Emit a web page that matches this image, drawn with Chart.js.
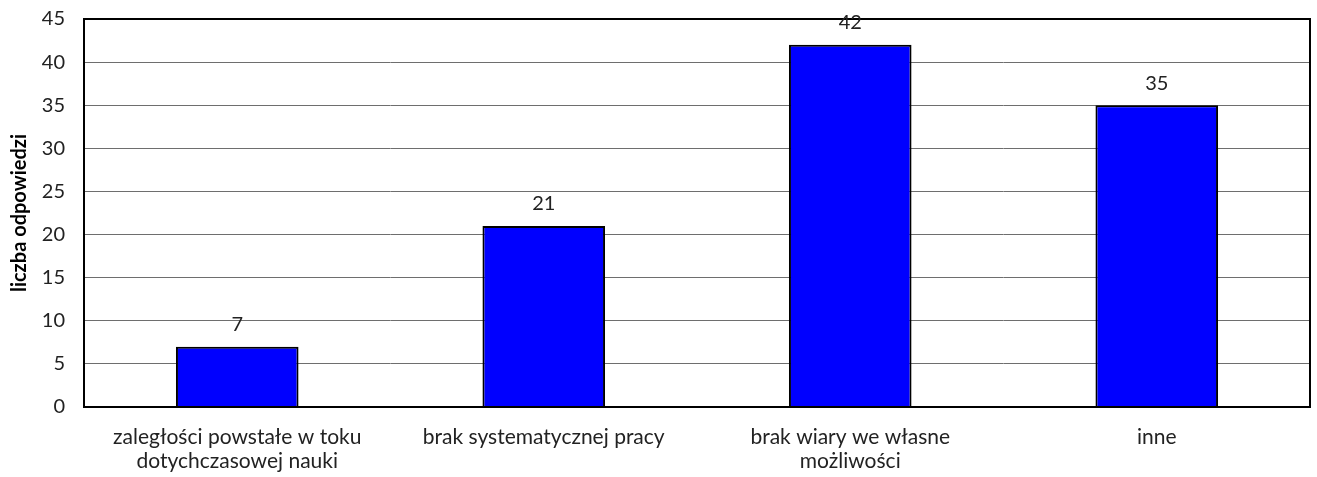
<!DOCTYPE html>
<html>
<head>
<meta charset="utf-8">
<script src="https://cdn.jsdelivr.net/npm/chart.js@4"></script>
<style>
  html, body { margin: 0; padding: 0; background: #fff; }
  #wrap { width: 1317px; height: 477px; position: relative; }
</style>
</head>
<body>
<div id="wrap"><canvas id="chart"></canvas></div>
<script>
// dane
const categories = [
    ['zaległości powstałe w toku', 'dotychczasowej nauki'],
    'brak systematycznej pracy',
    ['brak wiary we własne', 'możliwości'],
    'inne',
];
const answers = [7, 21, 42, 35];
const yTicks = [0, 5, 10, 15, 20, 25, 30, 35, 40, 45];
const yTitle = 'liczba odpowiedzi';

const FONT = 'Lato, Carlito, "Liberation Sans", sans-serif';

// ramka wokół obszaru wykresu
const frame = {
    id: 'frame',
    afterDatasetsDraw(chart) {
        const { ctx, chartArea: a } = chart;
        ctx.save();
        ctx.strokeStyle = '#000';
        ctx.lineWidth = 2;
        ctx.strokeRect(a.left, a.top, a.right - a.left, a.bottom - a.top);
        ctx.restore();
    },
};

// etykiety wartości nad słupkami
const valueLabels = {
    id: 'valueLabels',
    afterDatasetsDraw(chart) {
        const { ctx } = chart;
        const meta = chart.getDatasetMeta(0);
        ctx.save();
        ctx.font = '20px ' + FONT;
        ctx.fillStyle = '#222';
        ctx.textAlign = 'center';
        ctx.textBaseline = 'bottom';
        meta.data.forEach((bar, i) => {
            ctx.fillText(String(answers[i]), bar.x, bar.y - 12);
        });
        ctx.restore();
    },
};

new Chart(document.getElementById('chart'), {
    type: 'bar',
    data: {
        labels: categories,
        datasets: [{
            data: answers,
            backgroundColor: '#0000ff',
            borderColor: '#000',
            borderWidth: 2,
            categoryPercentage: 0.4,
            barPercentage: 1,
        }],
    },
    options: {
        responsive: true,
        maintainAspectRatio: false,
        animation: false,
        layout: { padding: { top: 19, right: 7, left: 0, bottom: 0 } },
        plugins: {
            legend: { display: false },
            tooltip: { enabled: false },
        },
        scales: {
            x: {
                grid: { display: false, drawTicks: false },
                border: { display: false },
                ticks: {
                    color: '#222',
                    font: { family: FONT, size: 21, lineHeight: 1.15 },
                    padding: 18,
                    maxRotation: 0,
                    autoSkip: false,
                },
                afterFit(scale) { scale.height = 70; },
            },
            y: {
                min: 0,
                max: 45,
                afterBuildTicks(scale) { scale.ticks = yTicks.map(v => ({ value: v })); },
                grid: {
                    color: '#6e6e6e',
                    lineWidth: 1,
                    drawTicks: true,
                    tickLength: 18,
                    tickColor: 'rgba(0,0,0,0)',
                },
                border: { display: false },
                ticks: {
                    color: '#222',
                    font: { family: FONT, size: 20 },
                    padding: 1,
                },
                title: {
                    display: true,
                    text: yTitle,
                    color: '#000',
                    font: { family: FONT, size: 20, weight: 'bold' },
                    padding: { top: 8, bottom: 0 },
                },
                afterFit(scale) { scale.width = 84; },
            },
        },
    },
    plugins: [frame, valueLabels],
});
</script>
</body>
</html>
